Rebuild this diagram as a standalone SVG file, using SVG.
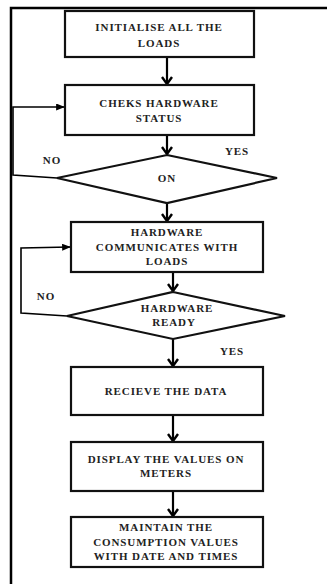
<svg xmlns="http://www.w3.org/2000/svg" width="327" height="584" viewBox="0 0 327 584">
<defs>
<marker id="ahd" viewBox="0 0 12 10" refX="6" refY="9" markerWidth="12" markerHeight="10" orient="0" markerUnits="userSpaceOnUse">
<path d="M1,2 L6,9 L11,2" fill="none" stroke="#000" stroke-width="2.4"/>
</marker>
<marker id="ahr" viewBox="0 0 10 8" refX="9" refY="4" markerWidth="9" markerHeight="7" orient="auto" markerUnits="userSpaceOnUse">
<path d="M0,0 L10,4 L0,8 Z" fill="#000"/>
</marker>
</defs>
<style>
.box{fill:#fff;stroke:#111;stroke-width:2.2}
.t{font-family:"Liberation Serif","Times New Roman",serif;font-weight:bold;font-size:11px;letter-spacing:0.9px;fill:#222;text-anchor:middle}
.c{fill:none;stroke:#000;stroke-width:2.2}
.c1{fill:none;stroke:#000;stroke-width:1.6}
</style>
<g id="frame">
<path d="M11,584 L11,8 L327,8" fill="none" stroke="#000" stroke-width="2.5"/>
</g>
<g id="connectors">
<line class="c" x1="167" y1="57" x2="167" y2="84" marker-end="url(#ahd)"/>
<line class="c" x1="167" y1="135" x2="167" y2="154" marker-end="url(#ahd)"/>
<polyline class="c1" points="57,178 13,175 13,107 64,107" marker-end="url(#ahr)"/>
<line class="c" x1="167" y1="203" x2="167" y2="221" marker-end="url(#ahd)"/>
<line class="c" x1="173" y1="272" x2="173" y2="291" marker-end="url(#ahd)"/>
<polyline class="c1" points="67,316 21,313 21,248 70,247" marker-end="url(#ahr)"/>
<line class="c" x1="173" y1="339" x2="173" y2="366" marker-end="url(#ahd)"/>
<line class="c" x1="173" y1="415" x2="173" y2="441" marker-end="url(#ahd)"/>
<line class="c" x1="173" y1="491" x2="173" y2="516" marker-end="url(#ahd)"/>
</g>
<g id="n1">
<rect class="box" x="65" y="11" width="189" height="46"/>
<text class="t" x="159" y="31">INITIALISE ALL THE</text>
<text class="t" x="159" y="47">LOADS</text>
</g>
<g id="n2">
<rect class="box" x="65" y="85" width="189" height="50"/>
<text class="t" x="159" y="107">CHEKS HARDWARE</text>
<text class="t" x="159" y="122">STATUS</text>
</g>
<g id="d1">
<polygon class="box" points="167,155 277,178 167,203 57,178"/>
<text class="t" x="167" y="182">ON</text>
</g>
<g id="n3">
<rect class="box" x="71" y="222" width="192" height="50"/>
<text class="t" x="167" y="236">HARDWARE</text>
<text class="t" x="167" y="251">COMMUNICATES WITH</text>
<text class="t" x="167" y="265">LOADS</text>
</g>
<g id="d2">
<polygon class="box" points="173,292 285,316 173,339 67,316"/>
<text class="t" x="177" y="312">HARDWARE</text>
<text class="t" x="174" y="326">READY</text>
</g>
<g id="n4">
<rect class="box" x="71" y="367" width="192" height="48"/>
<text class="t" x="166" y="395">RECIEVE THE DATA</text>
</g>
<g id="n5">
<rect class="box" x="71" y="442" width="192" height="49"/>
<text class="t" x="166" y="463">DISPLAY  THE VALUES ON</text>
<text class="t" x="166" y="477">METERS</text>
</g>
<g id="n6">
<rect class="box" x="71" y="517" width="192" height="50"/>
<text class="t" x="166" y="531">MAINTAIN THE</text>
<text class="t" x="166" y="546">CONSUMPTION  VALUES</text>
<text class="t" x="166" y="560">WITH DATE AND TIMES</text>
</g>
<g id="labels">
<text class="t" x="52" y="164">NO</text>
<text class="t" x="237" y="155">YES</text>
<text class="t" x="46" y="300">NO</text>
<text class="t" x="232" y="355">YES</text>
</g>
</svg>
